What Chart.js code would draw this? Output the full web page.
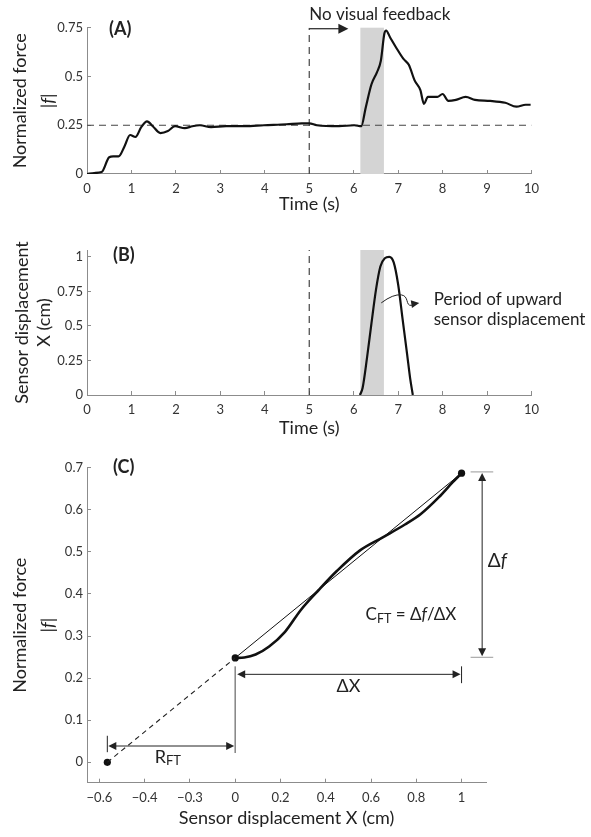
<!DOCTYPE html>
<html>
<head>
<meta charset="utf-8">
<script src="https://cdn.jsdelivr.net/npm/chart.js@4.4.1/dist/chart.umd.min.js"></script>
<style>
  html, body { margin: 0; padding: 0; background: #fff; }
  #wrap { position: relative; width: 591px; height: 837px; }
  #wrap canvas { position: absolute; left: 0; top: 0; }
</style>
</head>
<body>
<div id="wrap">
  <canvas id="chartA" width="591" height="837"></canvas>
  <canvas id="chartB" width="591" height="837"></canvas>
  <canvas id="chartC" width="591" height="837"></canvas>
</div>
<script>
// ---- data ----
// (A) normalized force vs time
const timeA  = [0, 0.16, 0.33, 0.5, 0.59, 0.71, 0.84, 0.97, 1.09, 1.22, 1.35, 1.48, 1.65, 1.82, 1.98, 2.2, 2.37, 2.54, 2.79, 3.13, 3.55, 3.98, 4.49, 4.83, 5.0, 5.17, 5.67, 6.01, 6.17, 6.27, 6.4, 6.52, 6.61, 6.69, 6.73, 6.82, 6.95, 7.12, 7.24, 7.37, 7.5, 7.58, 7.67, 7.88, 8.0, 8.13, 8.3, 8.52, 8.73, 9.07, 9.41, 9.66, 9.87, 9.98];
const forceA = [0, 0.005, 0.01, 0.086, 0.09, 0.09, 0.14, 0.2, 0.19, 0.24, 0.27, 0.245, 0.21, 0.22, 0.245, 0.235, 0.245, 0.25, 0.24, 0.245, 0.245, 0.25, 0.255, 0.26, 0.26, 0.25, 0.245, 0.25, 0.245, 0.34, 0.46, 0.52, 0.58, 0.72, 0.735, 0.70, 0.65, 0.59, 0.56, 0.48, 0.43, 0.36, 0.395, 0.395, 0.41, 0.375, 0.38, 0.395, 0.38, 0.375, 0.365, 0.345, 0.355, 0.355];
// (B) sensor displacement vs time
const timeB = [6.14, 6.2, 6.3, 6.4, 6.5, 6.6, 6.7, 6.8, 6.9, 7.0, 7.1, 7.2, 7.27, 7.33];
const dispB = [0, 0.05, 0.27, 0.52, 0.76, 0.93, 0.99, 1.0, 0.96, 0.8, 0.55, 0.3, 0.12, 0];
// (C) force vs displacement
const dispC  = [0, 0.04, 0.09, 0.15, 0.22, 0.29, 0.37, 0.45, 0.55, 0.65, 0.75, 0.82, 0.9, 0.96, 1.0];
const forceC = [0.248, 0.249, 0.256, 0.275, 0.31, 0.362, 0.41, 0.455, 0.503, 0.534, 0.565, 0.59, 0.63, 0.665, 0.687];
const kneeC  = { x: 0, y: 0.248 };
const endC   = { x: 1, y: 0.687 };
const originC = { x: -0.565, y: 0 };

// events / reference levels
const feedbackOff = 5;
const targetForce = 0.25;
const shadeStart = 6.15, shadeEnd = 6.68;

// ticks
const timeTicks = [0, 1, 2, 3, 4, 5, 6, 7, 8, 9, 10];
const forceTicksA = [0, 0.25, 0.5, 0.75];
const dispTicksB = [0, 0.25, 0.5, 0.75, 1];
const dispTicksC = [-0.6, -0.4, -0.2, 0, 0.2, 0.4, 0.6, 0.8, 1];
const dispLabelsC = ['\u22120.6', '\u22120.4', '\u22120.3', '0', '0.2', '0.4', '0.6', '0.8', '1'];
const forceTicksC = [0, 0.1, 0.2, 0.3, 0.4, 0.5, 0.6, 0.7];

// ---- helpers ----
const FONT = "Lato, 'DejaVu Sans', sans-serif";
const INK = '#222';
const AXIS = '#8c8c8c';
function font(size, style) { return (style ? style + ' ' : '') + size + 'px ' + FONT; }
function xy(xs, ys) { return xs.map((v, i) => ({ x: v, y: ys[i] })); }

// ticks point into the plot (negative tick length), labels pushed back out with padding
function axis(o) {
  return {
    type: 'linear',
    min: o.min, max: o.max,
    afterBuildTicks: s => { s.ticks = o.ticks.map(v => ({ value: v })); },
    afterFit: s => { if (o.width) s.width = o.width; if (o.height) s.height = o.height; },
    ticks: {
      color: '#333', font: { family: FONT, size: 13 }, padding: o.width ? 8 : 11,
      maxRotation: 0, autoSkip: false,
      callback: (v, i) => o.labels ? o.labels[i] : String(+v.toFixed(2))
    },
    grid: { drawOnChartArea: false, drawTicks: true, tickLength: -4, color: AXIS },
    border: { color: AXIS, width: 1 },
    title: o.title
  };
}

function drawParts(ctx, x, y, parts, align) {
  let total = 0;
  parts.forEach(p => { ctx.font = p.font; p.w = ctx.measureText(p.text).width; total += p.w; });
  let cx = align === 'center' ? x - total / 2 : x;
  ctx.textAlign = 'left';
  ctx.textBaseline = 'middle';
  parts.forEach(p => { ctx.font = p.font; ctx.fillText(p.text, cx, y + (p.dy || 0)); cx += p.w; });
}

function absF(ctx, cx, cy) {
  // the "|f|" line of the y-axis title, rotated
  ctx.save();
  ctx.fillStyle = INK;
  ctx.translate(cx, cy);
  ctx.rotate(-Math.PI / 2);
  drawParts(ctx, 0, 0, [
    { text: '|', font: font(18) },
    { text: 'f', font: font(18, 'italic') },
    { text: '|', font: font(18) }
  ], 'center');
  ctx.restore();
}

function head(ctx, x, y, ang, len, half) {
  const c = Math.cos(ang), s = Math.sin(ang);
  ctx.beginPath();
  ctx.moveTo(x, y);
  ctx.lineTo(x - len * c + half * s, y - len * s - half * c);
  ctx.lineTo(x - len * c - half * s, y - len * s + half * c);
  ctx.closePath();
  ctx.fill();
}

function seg(ctx, x1, y1, x2, y2) {
  ctx.beginPath();
  ctx.moveTo(x1, y1);
  ctx.lineTo(x2, y2);
  ctx.stroke();
}

function shade(chart) {
  const { ctx, chartArea, scales } = chart;
  const x1 = scales.x.getPixelForValue(shadeStart);
  const x2 = scales.x.getPixelForValue(shadeEnd);
  ctx.save();
  ctx.fillStyle = '#d4d4d4';
  ctx.fillRect(x1, chartArea.top, x2 - x1, chartArea.bottom - chartArea.top);
  ctx.restore();
}

const base = {
  responsive: false,
  animation: false,
  events: [],
  plugins: { legend: { display: false }, tooltip: { enabled: false } },
  elements: { point: { radius: 0 } }
};

function yTitle(text) {
  return { display: true, text: text, color: INK, font: { family: FONT, size: 18 }, padding: { top: 9.2, bottom: 0 } };
}
function xTitle(text, pb) {
  return { display: true, text: text, color: INK, font: { family: FONT, size: 18 }, padding: { top: 0, bottom: pb } };
}

// ---- (A) ----
new Chart(document.getElementById('chartA'), {
  type: 'line',
  data: {
    datasets: [
      { data: xy(timeA, forceA), borderColor: '#111', borderWidth: 2.2, pointRadius: 0, cubicInterpolationMode: 'monotone' },
      { data: [{ x: 0, y: targetForce }, { x: 10, y: targetForce }], borderColor: '#444', borderWidth: 1.2, borderDash: [7, 5], pointRadius: 0 },
      { data: [{ x: feedbackOff, y: 0 }, { x: feedbackOff, y: 0.75 }], borderColor: '#444', borderWidth: 1.2, borderDash: [7, 5], pointRadius: 0 }
    ]
  },
  options: Object.assign({}, base, {
    layout: { padding: { top: 27.7, right: 59.5, bottom: 622, left: 0 } },
    scales: {
      x: axis({ min: 0, max: 10, ticks: timeTicks, height: 41, title: xTitle('Time (s)', 0) }),
      y: axis({ min: 0, max: 0.75, ticks: forceTicksA, width: 87, title: yTitle('Normalized force') })
    }
  }),
  plugins: [{
    id: 'annA',
    beforeDatasetsDraw: shade,
    afterDraw(chart) {
      const { ctx, chartArea, scales } = chart;
      const X = v => scales.x.getPixelForValue(v), Y = v => scales.y.getPixelForValue(v);
      ctx.save();
      ctx.fillStyle = INK;
      ctx.font = font(18, 'bold');
      ctx.textAlign = 'left';
      ctx.textBaseline = 'middle';
      ctx.fillText('(A)', chartArea.left + 22, chartArea.top + 1);
      ctx.font = font(17);
      ctx.fillText('No visual feedback', X(feedbackOff), 15);
      ctx.strokeStyle = '#333';
      ctx.fillStyle = '#222';
      ctx.lineWidth = 1.3;
      seg(ctx, X(feedbackOff), Y(0.75) + 1, X(5.7), Y(0.75) + 1);
      head(ctx, X(5.88), Y(0.75) + 1, 0, 10, 5);
      ctx.restore();
      absF(ctx, 48, (chartArea.top + chartArea.bottom) / 2);
    }
  }]
});

// ---- (B) ----
new Chart(document.getElementById('chartB'), {
  type: 'line',
  data: {
    datasets: [
      { data: xy(timeB, dispB), borderColor: '#111', borderWidth: 2.2, pointRadius: 0, cubicInterpolationMode: 'monotone' },
      { data: [{ x: feedbackOff, y: 0 }, { x: feedbackOff, y: 1.05 }], borderColor: '#444', borderWidth: 1.2, borderDash: [7, 5], pointRadius: 0 }
    ]
  },
  options: Object.assign({}, base, {
    layout: { padding: { top: 250, right: 59.5, bottom: 397, left: 0 } },
    scales: {
      x: axis({ min: 0, max: 10, ticks: timeTicks, height: 45, title: xTitle('Time (s)', 1.2) }),
      y: axis({ min: 0, max: 1.05, ticks: dispTicksB, width: 87,
        title: { display: true, text: ['Sensor displacement', 'X (cm)'], color: INK,
                 font: { family: FONT, size: 18, lineHeight: 1.22 }, padding: { top: 11.6, bottom: 0 } } })
    }
  }),
  plugins: [{
    id: 'annB',
    beforeDatasetsDraw: shade,
    afterDraw(chart) {
      const { ctx, chartArea, scales } = chart;
      const X = v => scales.x.getPixelForValue(v), Y = v => scales.y.getPixelForValue(v);
      ctx.save();
      ctx.fillStyle = INK;
      ctx.font = font(18, 'bold');
      ctx.textAlign = 'left';
      ctx.textBaseline = 'middle';
      ctx.fillText('(B)', chartArea.left + 26, Y(1) - 2);
      // squiggly leader from the shaded period to the label
      const sx = X(6.62), sy = Y(0.667);
      ctx.strokeStyle = '#222';
      ctx.lineWidth = 1;
      ctx.beginPath();
      ctx.moveTo(sx, sy);
      ctx.quadraticCurveTo(sx + 12, sy - 9, sx + 20, sy - 8);
      ctx.bezierCurveTo(sx + 28, sy - 7, sx + 24, sy + 3, sx + 30, sy + 2.5);
      ctx.lineTo(sx + 32, sy + 2);
      ctx.stroke();
      head(ctx, sx + 38, sy, -0.15, 8, 4);
      ctx.font = font(17);
      ctx.fillText('Period of upward', X(7.8), Y(0.69));
      ctx.fillText('sensor displacement', X(7.8), Y(0.545));
      ctx.restore();
    }
  }]
});

// ---- (C) ----
new Chart(document.getElementById('chartC'), {
  type: 'line',
  data: {
    datasets: [
      { data: xy(dispC, forceC), borderColor: '#111', borderWidth: 2.6, pointRadius: 0, cubicInterpolationMode: 'monotone' },
      { data: [kneeC, endC], borderColor: '#111', borderWidth: 1, pointRadius: 0 },
      { data: [originC, kneeC], borderColor: '#222', borderWidth: 1.1, borderDash: [5, 4], pointRadius: 0 },
      { data: [originC, kneeC, endC], showLine: false, pointRadius: 3.6, pointBackgroundColor: '#111', pointBorderWidth: 0, clip: false }
    ]
  },
  options: Object.assign({}, base, {
    layout: { padding: { top: 467.7, right: 105, bottom: 0, left: 0 } },
    scales: {
      x: axis({ min: -0.6548, max: 1.108, ticks: dispTicksC, labels: dispLabelsC, height: 54.3,
                title: xTitle('Sensor displacement X (cm)', 8.2) }),
      y: axis({ min: -0.0485, max: 0.7, ticks: forceTicksC, width: 87, title: yTitle('Normalized force') })
    }
  }),
  plugins: [{
    id: 'annC',
    afterDraw(chart) {
      const { ctx, chartArea, scales } = chart;
      const X = v => scales.x.getPixelForValue(v), Y = v => scales.y.getPixelForValue(v);
      ctx.save();
      ctx.fillStyle = INK;
      ctx.font = font(18, 'bold');
      ctx.textAlign = 'left';
      ctx.textBaseline = 'middle';
      ctx.fillText('(C)', chartArea.left + 26, chartArea.top - 1);

      // grey drop line at X = 0
      ctx.strokeStyle = '#8a8a8a';
      ctx.lineWidth = 1.6;
      seg(ctx, X(0), Y(0.228), X(0), Y(0.022));

      ctx.strokeStyle = '#222';
      ctx.fillStyle = '#222';
      ctx.lineWidth = 1;
      // R_FT
      seg(ctx, X(originC.x), Y(0.063), X(originC.x), Y(0.024));
      seg(ctx, X(originC.x) + 4, Y(0.0387), X(0) - 4, Y(0.0387));
      head(ctx, X(originC.x) + 1, Y(0.0387), Math.PI, 8, 4);
      head(ctx, X(0) - 1, Y(0.0387), 0, 8, 4);
      // ΔX
      seg(ctx, X(1), Y(0.228), X(1), Y(0.188));
      seg(ctx, X(0) + 4, Y(0.209), X(1) - 4, Y(0.209));
      head(ctx, X(0) + 2, Y(0.209), Math.PI, 8, 4);
      head(ctx, X(1) - 1, Y(0.209), 0, 8, 4);
      // Δf
      ctx.strokeStyle = '#999';
      seg(ctx, X(1.04), Y(0.69), X(1.14), Y(0.69));
      seg(ctx, X(1.04), Y(0.2495), X(1.14), Y(0.2495));
      ctx.strokeStyle = '#222';
      seg(ctx, X(1.091), Y(0.69) + 4, X(1.091), Y(0.2495) - 4);
      head(ctx, X(1.091), Y(0.69) + 1, -Math.PI / 2, 8, 4);
      head(ctx, X(1.091), Y(0.2495) - 1, Math.PI / 2, 8, 4);

      // labels
      ctx.fillStyle = INK;
      drawParts(ctx, X(-0.356), Y(0.012), [
        { text: 'R', font: font(18) },
        { text: 'FT', font: font(13), dy: 4 }
      ], 'left');
      drawParts(ctx, X(0.5), Y(0.18), [{ text: '\u0394X', font: font(18) }], 'center');
      drawParts(ctx, X(1.116), Y(0.479), [
        { text: '\u0394', font: font(19) },
        { text: 'f', font: font(19, 'italic') }
      ], 'left');
      drawParts(ctx, X(0.576), Y(0.35), [
        { text: 'C', font: font(17) },
        { text: 'FT', font: font(12.5), dy: 4 },
        { text: ' = \u0394', font: font(17) },
        { text: 'f', font: font(17, 'italic') },
        { text: '/\u0394X', font: font(17) }
      ], 'left');
      ctx.restore();
      absF(ctx, 48, (chartArea.top + chartArea.bottom) / 2);
    }
  }]
});
</script>
</body>
</html>
